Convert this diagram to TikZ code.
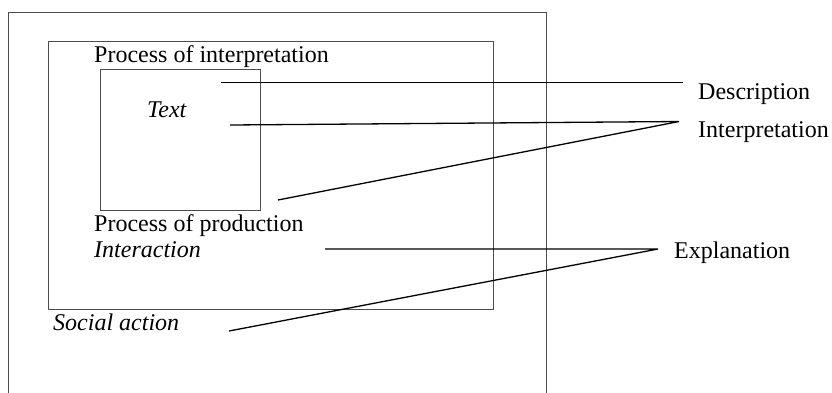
\documentclass[tikz,border=0pt]{standalone}
\usepackage{fontspec}
\setmainfont{Liberation Serif}
\begin{document}
\begin{tikzpicture}[x=1pt,y=-1pt,
  box/.style={draw=black!70,line width=1pt,inner sep=0pt,anchor=north west},
  link/.style={draw=black,line width=1.3pt},
  lbl/.style={inner sep=0pt,anchor=base west,font=\fontsize{24}{28}\selectfont}]
\path[use as bounding box] (0,0) rectangle (832,392);
\clip (0,0) rectangle (832,392);
% boxes
\node[box,minimum width=538pt,minimum height=400pt] (outer) at (8,12) {};
\node[box,minimum width=445pt,minimum height=268pt] (inner) at (48,41) {};
\node[box,minimum width=160pt,minimum height=141pt] (textbox) at (100,69) {};
% labels
\node[lbl] (pint) at (94,62.5) {Process of interpretation};
\node[lbl] (text) at (147,117) {\itshape Text};
\node[lbl] (pprod) at (94,231.5) {Process of production};
\node[lbl] (interaction) at (94,257) {\itshape Interaction};
\node[lbl] (social) at (53,330) {\itshape Social action};
\node[lbl] (desc) at (698,99.5) {Description};
\node[lbl] (interp) at (698,137) {Interpretation};
\node[lbl] (expl) at (674,258) {Explanation};
% connector ends
\coordinate (dS) at (221,82.5);
\coordinate (dE) at (683,82.5);
\coordinate (iA) at (230,125);
\coordinate (iB) at (278,200);
\coordinate (iE) at (679,121.5);
\coordinate (eA) at (325,249);
\coordinate (eB) at (229,331);
\coordinate (eE) at (658,249);
% connectors
\draw[link] (dS) -- (dE);
\draw[link] (iA) -- (iE) -- (iB);
\draw[link] (eA) -- (eE) -- (eB);
\end{tikzpicture}
\end{document}
